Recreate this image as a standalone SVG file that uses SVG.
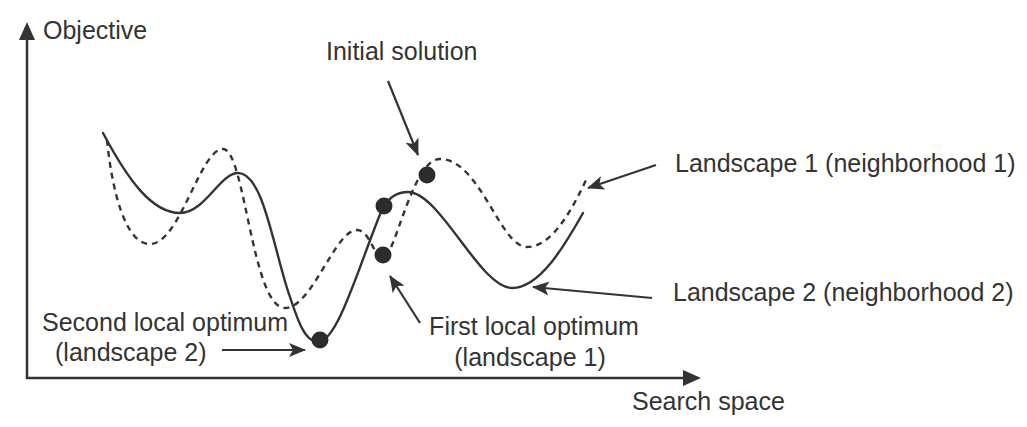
<svg xmlns="http://www.w3.org/2000/svg" width="1027" height="427" viewBox="0 0 1027 427">
  <style>
    text { font-family: "Liberation Sans", Arial, sans-serif; font-size: 25px; fill: #333; }
    .curve { fill: none; stroke: #333; stroke-width: 2.4; stroke-linecap: round; }
    .dash { stroke-dasharray: 6 5; stroke-linecap: butt; }
    .axis { fill: none; stroke: #333; stroke-width: 2.5; }
    .callout { fill: none; stroke: #333; stroke-width: 2.2; marker-end: url(#head); }
    .dot { fill: #2f2a2c; }
  </style>
  <defs>
    <marker id="head" markerUnits="userSpaceOnUse" markerWidth="18" markerHeight="14" refX="16" refY="7" orient="auto">
      <path d="M0,0 L17,7 L0,14 L4,7 Z" fill="#333"/>
    </marker>
  </defs>
  <rect width="1027" height="427" fill="#ffffff"/>

  <g id="axes">
    <line class="axis" x1="27" y1="379" x2="27" y2="36"/>
    <path d="M27,22 L35,40 L19,40 Z" fill="#333"/>
    <line class="axis" x1="26" y1="378" x2="686" y2="378"/>
    <path d="M701,378 L683,386 L683,370 Z" fill="#333"/>
    <text x="43" y="39">Objective</text>
    <text x="632" y="410">Search space</text>
  </g>

  <g id="landscape1">
    <path class="curve dash" d="M107,140 C112,190 125,244 150,244 C180,244 200,149 223,149 C245,149 252,308 285,308 C312,308 335,230 357,230 C370,230 374,258 383,258 C395,258 412,159 440,159 C480,159 500,247 527,247 C552,247 572,210 587,178"/>
  </g>

  <g id="landscape2">
    <path class="curve" d="M103,133 C128,180 152,213 180,213 C205,213 220,173 238,173 C262,173 272,240 287,288 C298,322 305,342 318,342 C338,342 360,262 383,207 C390,197 397,192 408,192 C440,192 480,288 512,288 C540,288 565,245 583,213"/>
  </g>

  <g id="points">
    <circle class="dot" cx="427" cy="175" r="8.5"/>
    <circle class="dot" cx="384" cy="206" r="8.5"/>
    <circle class="dot" cx="383" cy="255" r="8.5"/>
    <circle class="dot" cx="320" cy="340" r="8.5"/>
  </g>

  <g id="connectors">
    <line class="callout" x1="388" y1="81" x2="418" y2="155"/>
    <line class="callout" x1="656" y1="165" x2="588" y2="188"/>
    <line class="callout" x1="652" y1="298" x2="533" y2="287"/>
    <line class="callout" x1="420" y1="323" x2="390" y2="276"/>
    <line class="callout" x1="222" y1="350" x2="305" y2="350"/>
  </g>

  <g id="label-initial">
    <text x="326" y="60">Initial solution</text>
  </g>
  <g id="label-landscape1">
    <text x="675" y="172">Landscape 1 (neighborhood 1)</text>
  </g>
  <g id="label-landscape2">
    <text x="673" y="301">Landscape 2 (neighborhood 2)</text>
  </g>
  <g id="label-second">
    <text x="42" y="331">Second local optimum</text>
    <text x="55" y="361">(landscape 2)</text>
  </g>
  <g id="label-first">
    <text x="534" y="335" text-anchor="middle">First local optimum</text>
    <text x="530" y="366" text-anchor="middle">(landscape 1)</text>
  </g>
</svg>
